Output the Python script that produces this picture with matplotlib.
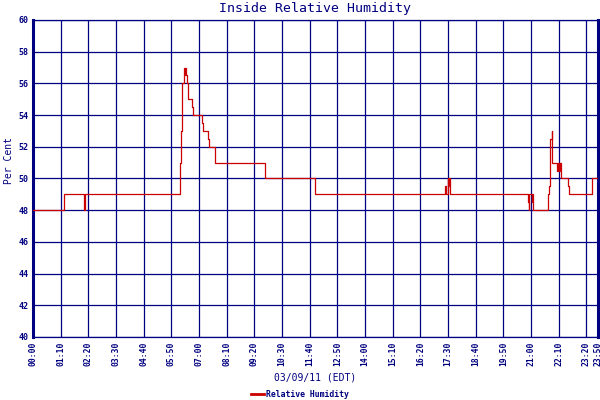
import matplotlib
matplotlib.use("Agg")
import matplotlib.pyplot as plt
from matplotlib.lines import Line2D

# change points of the humidity reading (time, per cent), held until next point
times = ["00:00", "01:18", "02:09", "02:11", "06:11", "06:13", "06:15", "06:17",
         "06:21", "06:23", "06:24", "06:25", "06:27", "06:29", "06:32", "06:33",
         "06:43", "06:46", "07:07", "07:11", "07:24", "07:25", "07:41", "09:47",
         "11:53", "17:22", "17:24", "17:30", "17:31", "17:32", "17:35", "20:52",
         "20:54", "20:56", "21:02", "21:03", "21:05", "21:42", "21:45", "21:47",
         "21:49", "21:52", "21:54", "22:07", "22:08", "22:10", "22:11", "22:13",
         "22:14", "22:15", "22:16", "22:33", "22:35", "23:34", "23:50"]
humidity = [48, 49, 48, 49, 49.5, 51, 53, 56,
            56.5, 57, 56.5, 57, 56.5, 56, 55.5, 55,
            54.5, 54, 53.5, 53, 52.5, 52, 51, 50,
            49, 49.5, 49, 50, 49.5, 50, 49, 48.5,
            48, 49, 48.5, 49, 48, 49, 49.5, 50.5,
            52.5, 53, 51, 50.5, 51, 50.5, 51, 50.5,
            51, 50.5, 50, 49.5, 49, 50, 50]

tick_labels = ["00:00", "01:10", "02:20", "03:30", "04:40", "05:50", "07:00",
               "08:10", "09:20", "10:30", "11:40", "12:50", "14:00", "15:10",
               "16:20", "17:30", "18:40", "19:50", "21:00", "22:10", "23:20",
               "23:50"]
y_ticks = list(range(40, 61, 2))

NAVY = "#000080"
RED = "#cc0000"
MONO = "DejaVu Sans Mono"


def to_min(t):
    h, m = t.split(":")
    return int(h) * 60 + int(m)


x = [to_min(t) for t in times]
x_ticks = [to_min(t) for t in tick_labels]

fig = plt.figure(figsize=(6, 4), dpi=100)
ax = fig.add_axes([0.055, 0.1575, 0.942, 0.7925])

ax.plot(x, humidity, color=RED, lw=0.9, drawstyle="steps-post", zorder=3)

ax.set_xlim(0, 1430)
ax.set_ylim(40, 60)
ax.set_xticks(x_ticks)
ax.set_xticklabels(tick_labels, rotation=90, fontsize=5.8, family=MONO,
                   color=NAVY, fontweight="bold")
ax.set_yticks(y_ticks)
ax.set_yticklabels([str(v) for v in y_ticks], fontsize=6, family=MONO,
                   color=NAVY, fontweight="bold")
ax.tick_params(length=0, pad=3)
ax.grid(True, color=NAVY, lw=0.9)
ax.set_axisbelow(True)
for side, sp in ax.spines.items():
    sp.set_color(NAVY)
    sp.set_linewidth(0.9)
ax.spines["left"].set_linewidth(2.2)
ax.spines["right"].set_linewidth(2.2)

fig.text(0.525, 0.978, "Inside Relative Humidity", ha="center", va="center",
         fontsize=9.5, family=MONO, color=NAVY)
fig.text(0.525, 0.055, "03/09/11 (EDT)", ha="center", va="center",
         fontsize=7, family=MONO, color=NAVY)
fig.text(0.015, 0.6, "Per Cent", ha="center", va="center", rotation=90,
         fontsize=7, family=MONO, color=NAVY)

fig.legend(handles=[Line2D([], [], color=RED, lw=2)], labels=["Relative Humidity"],
           loc="center", bbox_to_anchor=(0.5, 0.013), frameon=False,
           prop={"family": MONO, "size": 5.9, "weight": "bold"},
           handlelength=1.6, handletextpad=0.3, labelcolor=NAVY)

fig.savefig("out.png", dpi=100)
